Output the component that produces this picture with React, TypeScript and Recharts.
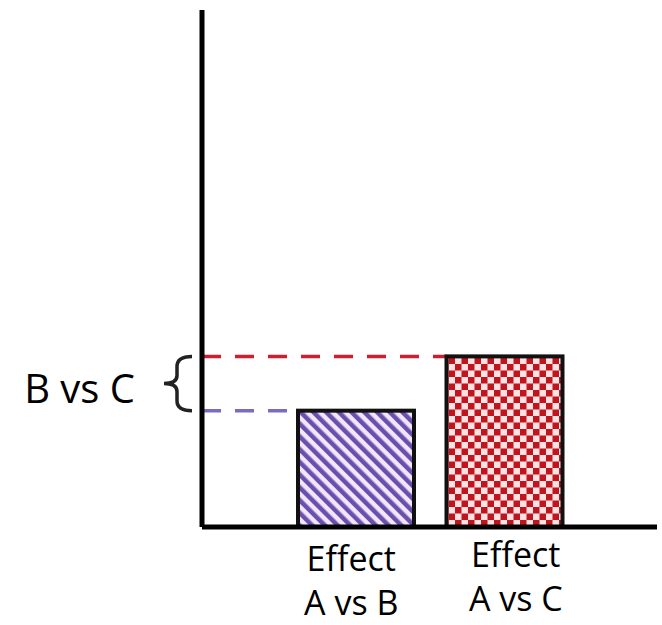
import React from 'react';
import { BarChart, Bar, XAxis, YAxis, ReferenceArea } from 'recharts';

const categories = ['Effect A vs B', 'Effect A vs C'];
const tickLines = [
  ['Effect', 'A vs B'],
  ['Effect', 'A vs C'],
];
const effectValues = [2.25, 3.3];
const braceLabel = 'B vs C';

const W = 662;
const H = 625;
const PLOT_LEFT = 202;
const FONT = '"Open Sans", sans-serif';

const fills = ['url(#stripes)', 'url(#checker)'];
const dashColors = ['#7a6cc0', '#cc2030'];
const tickShift = [-5, 11];
const tickRaise = [0, 4];

const data = categories.map((c, i) => ({ name: c, value: effectValues[i] }));

const BarShape = (props: any) => {
  const { x, y, width, height, index } = props;
  return (
    <g>
      <line
        x1={PLOT_LEFT}
        x2={x}
        y1={y}
        y2={y}
        stroke={dashColors[index]}
        strokeWidth={3.5}
        strokeDasharray="19 14"
      />
      <rect x={x} y={y} width={width} height={height} fill={fills[index]} stroke="#111" strokeWidth={4} />
    </g>
  );
};

const Tick = (props: any) => {
  const { x, y, index } = props;
  const lines = tickLines[index] || [];
  return (
    <g transform={`translate(${x + (tickShift[index] || 0)},${y - (tickRaise[index] || 0)})`}>
      {lines.map((t, i) => (
        <text key={i} x={0} y={36 + i * 44} textAnchor="middle" fill="#000" fontFamily={FONT} fontSize={34}>
          {t}
        </text>
      ))}
    </g>
  );
};

// curly brace drawn left of the y axis between the two bar heights
const Brace = (props: any) => {
  const { y, height } = props;
  const top = y;
  const bot = y + height;
  const mid = (top + bot) / 2;
  const r = PLOT_LEFT - 10;
  const m = PLOT_LEFT - 25;
  const l = PLOT_LEFT - 38;
  const d = `M ${r} ${top} Q ${m} ${top} ${m} ${top + 10} L ${m} ${mid - 8} Q ${m} ${mid} ${l} ${mid} Q ${m} ${mid} ${m} ${mid + 8} L ${m} ${bot - 10} Q ${m} ${bot} ${r} ${bot}`;
  return (
    <g>
      <path d={d} fill="none" stroke="#222" strokeWidth={3.5} />
      <text x={PLOT_LEFT - 67} y={mid + 19} textAnchor="end" fill="#000" fontFamily={FONT} fontSize={40}>
        {braceLabel}
      </text>
    </g>
  );
};

export default function App() {
  return (
    <div style={{ position: 'absolute', left: 0, top: 0, width: W, height: H, background: '#fff' }}>
      <BarChart width={W} height={H} data={data} margin={{ top: 10, right: 5, left: PLOT_LEFT - 60, bottom: 8 }}>
        <defs>
          <pattern id="stripes" patternUnits="userSpaceOnUse" width={9} height={9} patternTransform="rotate(-45)">
            <rect x={0} y={0} width={9} height={9} fill="#f2e6fb" />
            <rect x={0} y={0} width={4.5} height={9} fill="#6a4fae" />
          </pattern>
          <pattern id="checker" patternUnits="userSpaceOnUse" width={13} height={13}>
            <rect x={0} y={0} width={13} height={13} fill="#fbe2e2" />
            <rect x={0} y={0} width={6.5} height={6.5} fill="#c0141e" />
            <rect x={6.5} y={6.5} width={6.5} height={6.5} fill="#c0141e" />
          </pattern>
        </defs>
        <XAxis
          dataKey="name"
          axisLine={{ stroke: '#000', strokeWidth: 5 }}
          tickLine={false}
          tick={<Tick />}
          height={90}
          padding={{ left: 80, right: 78 }}
          interval={0}
        />
        <YAxis
          domain={[0, 10]}
          width={60}
          tick={false}
          tickLine={false}
          axisLine={{ stroke: '#000', strokeWidth: 5 }}
        />
        <ReferenceArea
          y1={effectValues[0]}
          y2={effectValues[1]}
          fill="none"
          stroke="none"
          ifOverflow="visible"
          shape={<Brace />}
        />
        <Bar dataKey="value" barSize={116} shape={<BarShape />} isAnimationActive={false} />
      </BarChart>
    </div>
  );
}
